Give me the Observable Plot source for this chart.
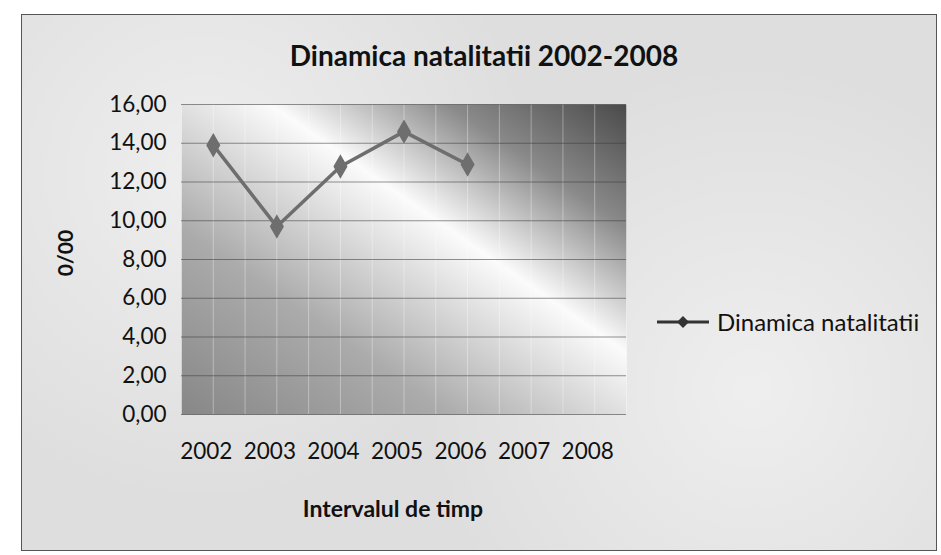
<!DOCTYPE html>
<html><head><meta charset="utf-8">
<script src="https://cdn.jsdelivr.net/npm/d3@7"></script>
<script src="https://cdn.jsdelivr.net/npm/@observablehq/plot@0.6"></script>
<style>
body{margin:0;background:#fff;font-family:Lato,"Open Sans",sans-serif;}
#wrap{position:relative;width:941px;height:555px;overflow:hidden;}
#card{position:absolute;left:21px;top:14px;width:914px;height:535px;border:1px solid #555;background:#dedede;
  background-image:radial-gradient(circle at 20% 30%, rgba(255,255,255,0.5), rgba(255,255,255,0) 40%),radial-gradient(circle at 80% 70%, rgba(255,255,255,0.5), rgba(255,255,255,0) 40%);}
#chart{position:absolute;left:0;top:0;}
.t{position:absolute;color:#111;white-space:nowrap;}
#title{left:0;width:968px;top:38px;text-align:center;font-weight:bold;font-size:28px;}
#xlabel{left:0;width:786px;top:494px;text-align:center;font-weight:bold;font-size:23px;}
#ylabel{left:64px;top:253px;font-weight:bold;font-size:21px;transform:translate(-50%,-50%) rotate(-90deg);}
#legend{left:655px;top:307px;font-size:24px;display:flex;align-items:center;}
</style></head>
<body>
<div id="wrap">
  <div id="card"></div>
  <div id="chart"></div>
  <div class="t" id="title"></div>
  <div class="t" id="xlabel"></div>
  <div class="t" id="ylabel"></div>
  <div class="t" id="legend"></div>
</div>
<script>
const titleText = "Dinamica natalitatii 2002-2008";
const seriesName = "Dinamica natalitatii";
const xTitle = "Intervalul de timp";
const yTitle = "0/00";
const years = [2002, 2003, 2004, 2005, 2006, 2007, 2008];
const values = [13.9, 9.7, 12.8, 14.6, 12.9, null, null];
const yTicks = [0, 2, 4, 6, 8, 10, 12, 14, 16];

const data = years.map((year, i) => ({year, value: values[i]}));
const defined = data.filter(d => d.value != null);
const fmt = d => d.toFixed(2).replace(".", ",");
const lineColor = "#6e6e6e";

const chart = Plot.plot({
  width: 941,
  height: 555,
  marginLeft: 181,
  marginRight: 315,
  marginTop: 104,
  marginBottom: 141,
  style: {fontFamily: "Lato, 'Open Sans', sans-serif", fontSize: "22.5px", color: "#111", background: "transparent"},
  x: {type: "linear", domain: [years[0] - 0.5, years[years.length - 1] + 0.5]},
  y: {domain: [yTicks[0], yTicks[yTicks.length - 1]]},
  marks: [
    Plot.frame({fill: "url(#plotbg)", stroke: "none"}),
    Plot.ruleX(d3.range(years[0] - 0.5, years[years.length - 1] + 0.51, 0.5), {stroke: "#fff", strokeOpacity: 0.35}),
    Plot.ruleY(yTicks, {stroke: "#3a3a3a", strokeOpacity: 0.55}),
    Plot.axisY(yTicks, {tickSize: 0, tickPadding: 15, tickFormat: fmt, label: null}),
    Plot.axisX(years, {tickSize: 0, tickPadding: 29, tickFormat: d => String(d), label: null, dx: -7}),
    Plot.line(defined, {x: "year", y: "value", stroke: lineColor, strokeWidth: 3.5}),
    Plot.dot(defined, {x: "year", y: "value", symbol: "diamond", r: 6.5, fill: lineColor, stroke: lineColor})
  ]
});

const ns = "http://www.w3.org/2000/svg";
const defs = document.createElementNS(ns, "defs");
defs.innerHTML = `<linearGradient id="plotbg" x1="0" y1="1" x2="1" y2="0">
  <stop offset="0" stop-color="#878787"/>
  <stop offset="0.3" stop-color="#ababab"/>
  <stop offset="0.6" stop-color="#fbfbfb"/>
  <stop offset="0.8" stop-color="#8a8a8a"/>
  <stop offset="1" stop-color="#4a4a4a"/>
</linearGradient>`;
chart.insertBefore(defs, chart.firstChild);
document.getElementById("chart").appendChild(chart);

document.getElementById("title").textContent = titleText;
document.getElementById("xlabel").textContent = xTitle;
document.getElementById("ylabel").textContent = yTitle;
document.getElementById("legend").innerHTML =
  `<svg width="56" height="16" style="margin-right:6px"><line x1="2" y1="8" x2="54" y2="8" stroke="#333" stroke-width="3"/><path d="M28,2 L34,8 L28,14 L22,8 Z" fill="#333"/></svg><span>${seriesName}</span>`;
</script>
</body></html>
